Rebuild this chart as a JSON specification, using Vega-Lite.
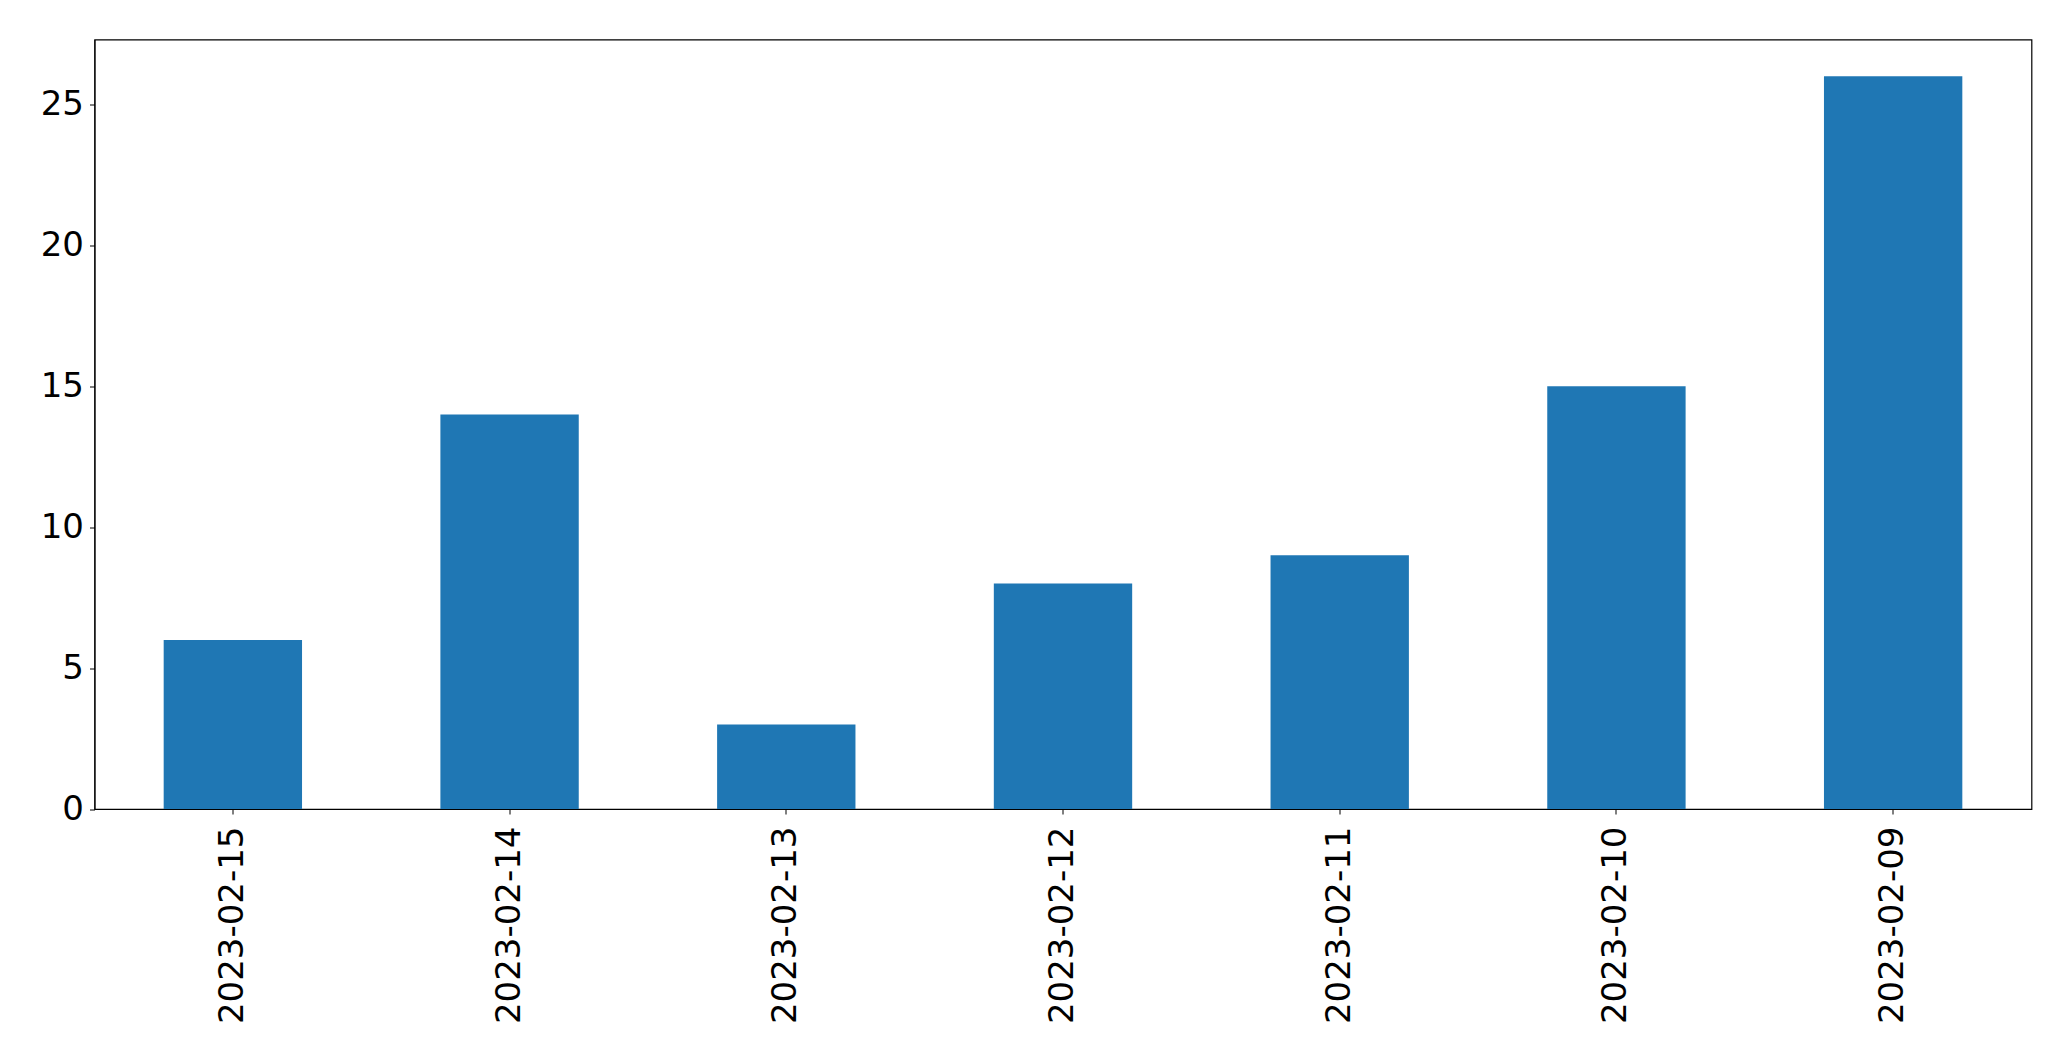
{
  "$schema": "https://vega.github.io/schema/vega-lite/v6.json",
  "autosize": {"type": "none"},
  "padding": {"left": 94.5, "top": 39.5, "right": 39.5, "bottom": 252},
  "width": 1937,
  "height": 769.5,
  "background": "white",
  "data": {
    "values": [
      {"date": "2023-02-15", "count": 6},
      {"date": "2023-02-14", "count": 14},
      {"date": "2023-02-13", "count": 3},
      {"date": "2023-02-12", "count": 8},
      {"date": "2023-02-11", "count": 9},
      {"date": "2023-02-10", "count": 15},
      {"date": "2023-02-09", "count": 26}
    ]
  },
  "mark": {"type": "bar", "color": "#1f77b4"},
  "encoding": {
    "x": {
      "field": "date",
      "type": "nominal",
      "sort": null,
      "scale": {"paddingInner": 0.5, "paddingOuter": 0.25},
      "axis": {
        "title": null,
        "labelAngle": -90,
        "labelFont": "DejaVu Sans",
        "labelFontSize": 34,
        "labelColor": "black",
        "labelPadding": 12,
        "labelLimit": 0,
        "labelOverlap": false,
        "tickColor": "black",
        "tickSize": 5,
        "domainColor": "black",
        "grid": false
      }
    },
    "y": {
      "field": "count",
      "type": "quantitative",
      "scale": {"domain": [0, 27.3], "nice": false, "zero": true},
      "axis": {
        "title": null,
        "values": [0, 5, 10, 15, 20, 25],
        "labelFont": "DejaVu Sans",
        "labelFontSize": 34,
        "labelColor": "black",
        "labelPadding": 6,
        "labelOverlap": false,
        "tickColor": "black",
        "tickSize": 5,
        "domainColor": "black",
        "grid": false
      }
    }
  },
  "config": {
    "view": {"stroke": "black", "strokeWidth": 1.2}
  }
}
